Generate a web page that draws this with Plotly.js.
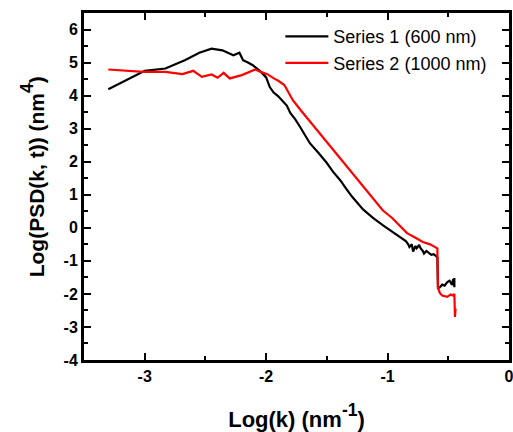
<!DOCTYPE html>
<html>
<head>
<meta charset="utf-8">
<script src="https://cdn.plot.ly/plotly-3.0.1.min.js"></script>
<style>html,body{margin:0;padding:0;background:#fff;}#chart{width:513px;height:432px;}</style>
</head>
<body>
<div id="chart"></div>
<script>
const series1Name = "Series 1 (600 nm)";
const series2Name = "Series 2 (1000 nm)";
const x1 = [-3.30,-3.15,-3.00,-2.83,-2.67,-2.55,-2.45,-2.36,-2.27,-2.22,-2.19,-2.15,-2.11,-2.04,-2.00,-1.97,-1.94,-1.90,-1.87,-1.83,-1.80,-1.76,-1.72,-1.68,-1.64,-1.57,-1.50,-1.45,-1.39,-1.34,-1.29,-1.20,-1.12,-1.04,-0.97,-0.90,-0.87,-0.85,-0.83,-0.82,-0.80,-0.79,-0.77,-0.76,-0.74,-0.73,-0.71,-0.70,-0.68,-0.66,-0.64,-0.62,-0.60,-0.59,-0.585,-0.57,-0.55,-0.53,-0.51,-0.49,-0.47,-0.46,-0.455,-0.45,-0.45];
const y1 = [4.19,4.48,4.75,4.82,5.07,5.30,5.42,5.37,5.22,5.30,5.07,5.00,4.92,4.71,4.55,4.26,4.10,3.98,3.86,3.70,3.47,3.28,3.05,2.80,2.56,2.27,1.96,1.70,1.44,1.18,0.93,0.55,0.30,0.08,-0.10,-0.28,-0.35,-0.40,-0.50,-0.58,-0.50,-0.72,-0.55,-0.62,-0.52,-0.61,-0.70,-0.78,-0.70,-0.76,-0.82,-0.80,-0.88,-0.89,-1.82,-1.80,-1.72,-1.75,-1.65,-1.60,-1.72,-1.55,-1.75,-1.52,-1.80];
const x2 = [-3.30,-3.01,-2.83,-2.69,-2.60,-2.53,-2.45,-2.40,-2.35,-2.30,-2.20,-2.15,-2.09,-2.04,-1.99,-1.94,-1.90,-1.85,-1.82,-1.78,-1.72,-1.66,-1.61,-1.56,-1.49,-1.42,-1.35,-1.29,-1.22,-1.15,-1.10,-1.04,-0.96,-0.90,-0.84,-0.77,-0.71,-0.65,-0.60,-0.59,-0.585,-0.57,-0.55,-0.51,-0.48,-0.46,-0.45,-0.445,-0.44];
const y2 = [4.79,4.72,4.72,4.65,4.75,4.57,4.64,4.54,4.69,4.52,4.62,4.70,4.79,4.71,4.65,4.53,4.45,4.32,4.12,3.86,3.58,3.31,3.08,2.86,2.55,2.25,1.93,1.65,1.35,1.04,0.80,0.53,0.29,0.08,-0.16,-0.30,-0.43,-0.50,-0.58,-0.62,-1.80,-1.97,-2.05,-2.09,-2.02,-2.05,-2.00,-2.70,-2.45];
const xTicks = [-3,-2,-1,0];
const yTicks = [-4,-3,-2,-1,0,1,2,3,4,5,6];
const xTitle = '<span style="font-size:22px">Log(k) (nm</span><sup>-1</sup><span style="font-size:22px">)</span>';
const yTitle = '<span style="font-size:21px">Log(PSD(k, t)) (nm</span><sup>4</sup><span style="font-size:21px">)</span>';

const font = "Liberation Sans, Arial, sans-serif";
const axisCommon = {
  showline: true, linecolor: '#000', linewidth: 3, mirror: 'ticks',
  ticks: 'inside', ticklen: 7, tickwidth: 2, tickcolor: '#000',
  showgrid: false, zeroline: false, ticklabeloverflow: 'allow',
  tickfont: {family: font, size: 16, color: '#000', weight: 'bold'},
  minor: {ticks: 'inside', ticklen: 4, tickwidth: 2, tickcolor: '#000', dtick: 0.5, showgrid: false}
};
const data = [
  {x: x1, y: y1, type: 'scatter', mode: 'lines', name: series1Name, line: {color: '#000000', width: 2.2}},
  {x: x2, y: y2, type: 'scatter', mode: 'lines', name: series2Name, line: {color: '#ff0000', width: 2.2}}
];
const layout = {
  width: 513, height: 432,
  margin: {l: 84, r: 4, t: 13, b: 72},
  paper_bgcolor: '#fff', plot_bgcolor: '#fff',
  showlegend: true,
  legend: {x: 0.462, y: 0.985, xanchor: 'left', yanchor: 'top', bgcolor: 'rgba(0,0,0,0)',
           font: {family: font, size: 18, color: '#000'}, tracegroupgap: 0, itemwidth: 43},
  xaxis: Object.assign({}, axisCommon, {
    range: [-3.5, 0], tickvals: xTicks, ticktext: xTicks.map(String),
    title: {text: xTitle, font: {family: font, size: 25, color: '#000', weight: 'bold'}, standoff: 28}
  }),
  yaxis: Object.assign({}, axisCommon, {
    range: [-4, 6.5], tickvals: yTicks, ticktext: yTicks.map(String)
  }),
  annotations: [{
    text: yTitle, xref: 'paper', yref: 'paper', x: -0.122, y: 0.527,
    xanchor: 'center', yanchor: 'middle', textangle: -90, showarrow: false,
    font: {family: font, size: 25, color: '#000', weight: 'bold'}
  }]
};
Plotly.newPlot('chart', data, layout, {displayModeBar: false, staticPlot: true});
</script>
</body>
</html>
